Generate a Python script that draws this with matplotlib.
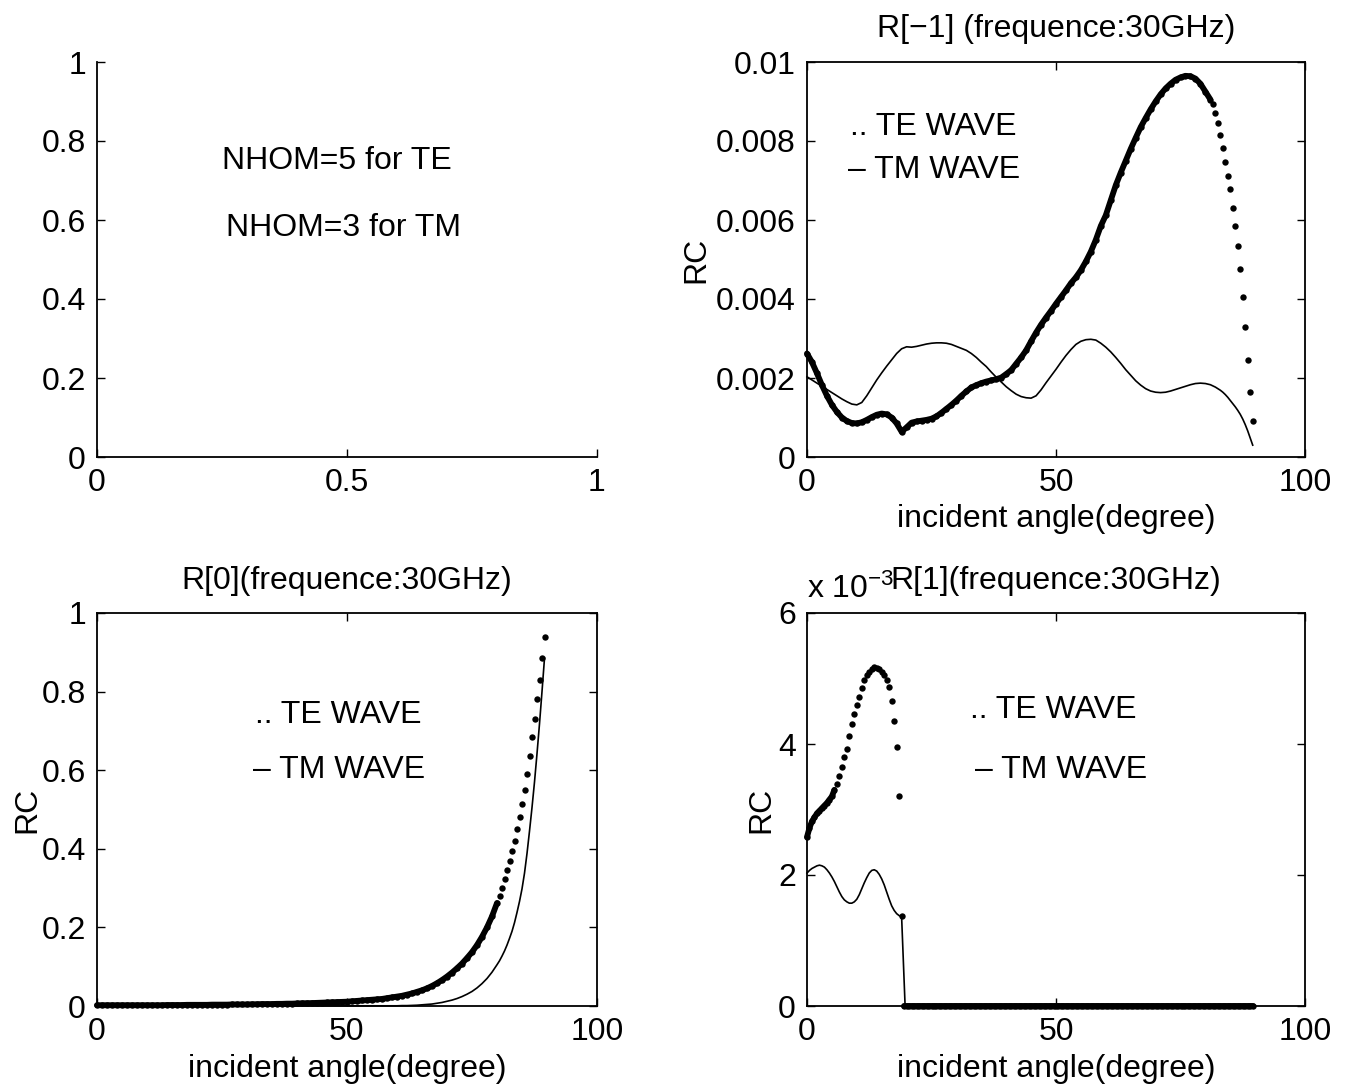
import numpy as np
import matplotlib
matplotlib.use("Agg")
import matplotlib.pyplot as plt

plt.rcParams["font.family"] = ["Liberation Sans", "DejaVu Sans"]
plt.rcParams["mathtext.fontset"] = "custom"
plt.rcParams["mathtext.rm"] = "Liberation Sans"
plt.rcParams["mathtext.it"] = "Liberation Sans"

# ---- R[-1] panel (values in units of 1e-3) ----
ang_m1 = list(range(0, 82)) + [81.5, 82.0, 82.5, 83.0, 83.5, 84.0, 84.5, 85.0, 85.5,
                               86.0, 86.5, 87.0, 87.5, 88.0, 88.5, 89.0, 89.5]
te_m1 = [2.62, 2.40, 2.12, 1.82, 1.55, 1.32, 1.14, 1.00, 0.91, 0.86,
         0.85, 0.88, 0.94, 1.01, 1.07, 1.10, 1.08, 1.00, 0.85, 0.64,
         0.75, 0.87, 0.90, 0.92, 0.94, 0.97, 1.03, 1.12, 1.22, 1.32,
         1.43, 1.55, 1.66, 1.76, 1.82, 1.87, 1.91, 1.94, 1.97, 2.01,
         2.10, 2.20, 2.36, 2.52, 2.70, 2.93, 3.15, 3.35, 3.53, 3.70,
         3.88, 4.05, 4.22, 4.40, 4.55, 4.73, 4.95, 5.20, 5.50, 5.85,
         6.12, 6.50, 6.88, 7.20, 7.50, 7.80, 8.08, 8.35, 8.58, 8.80,
         9.00, 9.18, 9.33, 9.45, 9.55, 9.61, 9.65, 9.64, 9.58, 9.45,
         9.25, 9.05,
         8.93, 8.72, 8.45, 8.15, 7.82, 7.48, 7.12, 6.78, 6.30,
         5.85, 5.35, 4.75, 4.05, 3.30, 2.45, 1.65, 0.90]
tm_m1 = [2.03, 1.95, 1.87, 1.79, 1.71, 1.63, 1.55, 1.47, 1.40, 1.34,
         1.32, 1.38, 1.55, 1.75, 1.95, 2.13, 2.30, 2.46, 2.62, 2.74,
         2.79, 2.78, 2.80, 2.83, 2.86, 2.88, 2.89, 2.89, 2.88, 2.85,
         2.80, 2.75, 2.70, 2.62, 2.52, 2.40, 2.29, 2.15, 2.02, 1.90,
         1.78, 1.68, 1.59, 1.53, 1.50, 1.49, 1.55, 1.70, 1.88, 2.05,
         2.22, 2.40, 2.57, 2.72, 2.85, 2.93, 2.97, 2.98, 2.96, 2.88,
         2.78, 2.66, 2.52, 2.37, 2.21, 2.07, 1.93, 1.82, 1.73, 1.67,
         1.64, 1.63, 1.64, 1.67, 1.71, 1.75, 1.79, 1.83, 1.86, 1.87,
         1.86, 1.83,
         1.80, 1.77, 1.73, 1.69, 1.64, 1.58, 1.51, 1.43, 1.35,
         1.27, 1.18, 1.08, 0.96, 0.82, 0.66, 0.48, 0.30]

# ---- R[0] panel ----
ang_0 = list(range(0, 81)) + [80.5, 81.0, 81.5, 82.0, 82.5, 83.0, 83.5, 84.0, 84.5, 85.0,
                              85.5, 86.0, 86.5, 87.0, 87.5, 88.0, 88.5, 89.0, 89.5]
te_0 = [0.002, 0.002, 0.002, 0.002, 0.002, 0.002, 0.002, 0.002, 0.002, 0.002,
        0.002, 0.002, 0.002, 0.002, 0.0025, 0.0025, 0.0025, 0.0025, 0.003, 0.003,
        0.003, 0.003, 0.003, 0.0035, 0.0035, 0.0035, 0.0035, 0.004, 0.004, 0.004,
        0.004, 0.0045, 0.0045, 0.005, 0.005, 0.005, 0.0055, 0.0055, 0.006, 0.006,
        0.0065, 0.007, 0.0072, 0.0075, 0.008, 0.0085, 0.009, 0.0095, 0.010, 0.0105,
        0.011, 0.012, 0.013, 0.014, 0.015, 0.016, 0.017, 0.018, 0.020, 0.022,
        0.024, 0.026, 0.029, 0.032, 0.036, 0.040, 0.045, 0.051, 0.058, 0.066,
        0.075, 0.085, 0.096, 0.108, 0.122, 0.137, 0.155, 0.176, 0.200, 0.228,
        0.262,
        0.280, 0.300, 0.322, 0.345, 0.370, 0.395, 0.420, 0.450, 0.480, 0.515,
        0.550, 0.590, 0.635, 0.684, 0.730, 0.780, 0.830, 0.885, 0.940]
tm_0 = [0.0003] * 51 + [0.0005] * 10 + [
        0.001, 0.001, 0.0015, 0.002, 0.003, 0.004, 0.005, 0.007, 0.009,
        0.012, 0.015, 0.019, 0.024, 0.030, 0.037, 0.046, 0.057, 0.070, 0.086,
        0.105,
        0.115, 0.127, 0.140, 0.155, 0.172, 0.190, 0.212, 0.238, 0.266, 0.298,
        0.338, 0.388, 0.445, 0.505, 0.570, 0.642, 0.718, 0.800, 0.885]

# ---- R[1] panel (values in units of 1e-3) ----
ang_p1 = [i * 0.5 for i in range(0, 180)]
te_p1 = [2.58, 2.72, 2.82, 2.88, 2.94, 2.98, 3.02, 3.06, 3.10, 3.15,
         3.20, 3.30, 3.39, 3.51, 3.65, 3.80, 3.93, 4.12, 4.31, 4.46,
         4.60, 4.72, 4.85, 4.97, 5.05, 5.10, 5.15, 5.17, 5.16, 5.14,
         5.10, 5.05, 4.98, 4.87, 4.66, 4.35, 3.95, 3.20, 1.38] + [0.0] * 141
ang_p1_tm = [i * 0.5 for i in range(0, 39)] + [19.7, 89.5]
tm_p1 = [2.03, 2.07, 2.10, 2.12, 2.14, 2.15, 2.14, 2.12, 2.08, 2.03,
         1.97, 1.90, 1.82, 1.74, 1.67, 1.62, 1.59, 1.57, 1.57, 1.59,
         1.63, 1.70, 1.79, 1.88, 1.96, 2.03, 2.07, 2.08, 2.06, 2.01,
         1.94, 1.85, 1.74, 1.63, 1.53, 1.46, 1.41, 1.38, 1.36, 0.0, 0.0]

ang_ticks = [0, 50, 100]
ang_ticklabels = ["0", "50", "100"]
m1_ticks = [0, 0.002, 0.004, 0.006, 0.008, 0.01]
m1_ticklabels = ["0", "0.002", "0.004", "0.006", "0.008", "0.01"]
unit_ticks = [0, 0.2, 0.4, 0.6, 0.8, 1]
unit_ticklabels = ["0", "0.2", "0.4", "0.6", "0.8", "1"]
p1_ticks = [0, 2, 4, 6]
p1_ticklabels = ["0", "2", "4", "6"]

FS = 23
W, H = 1348, 1092
fig = plt.figure(figsize=(W / 100, H / 100), dpi=100)
fig.patch.set_facecolor("white")


def make_axes(x0, y_top, x1, y_bot):
    return fig.add_axes([x0 / W, 1 - y_bot / H, (x1 - x0) / W, (y_bot - y_top) / H])


def style(ax, box=True):
    ax.tick_params(direction="in", length=6, width=1.0, labelsize=FS, pad=8,
                   top=box, right=box)
    for s in ax.spines.values():
        s.set_linewidth(1.3)
    if not box:
        ax.spines["top"].set_visible(False)
        ax.spines["right"].set_visible(False)


def te_tm(ax, x_te, y_te, x_tm, y_tm, dense):
    # where the TE samples lie close together they merge into a thick band
    x_te = np.asarray(x_te, float)
    y_te = np.asarray(y_te, float)
    for lo, hi in dense:
        m = (x_te >= lo) & (x_te <= hi)
        ax.plot(x_te[m], y_te[m], color="black", linewidth=4.2,
                solid_capstyle="round", clip_on=False)
    ax.plot(x_te, y_te, linestyle="none", marker="o", markersize=4.6,
            markeredgewidth=0, color="black", clip_on=False)
    ax.plot(x_tm, y_tm, color="black", linewidth=1.2, clip_on=False)


# top-left: notes
ax1 = make_axes(97, 62, 597, 457)
ax1.set_xlim(0, 1)
ax1.set_ylim(0, 1)
ax1.set_xticks([0, 0.5, 1])
ax1.set_xticklabels(["0", "0.5", "1"])
ax1.set_yticks(unit_ticks)
ax1.set_yticklabels(unit_ticklabels)
style(ax1, box=False)
ax1.text(0.25, 0.75, "NHOM=5 for TE", fontsize=FS, va="center", ha="left")
ax1.text(0.258, 0.58, "NHOM=3 for TM", fontsize=FS, va="center", ha="left")

# top-right: R[-1]
ax2 = make_axes(807, 62, 1305, 457)
te_tm(ax2, ang_m1, np.array(te_m1) * 1e-3, ang_m1, np.array(tm_m1) * 1e-3,
      dense=[(0, 81)])
ax2.set_xlim(0, 100)
ax2.set_ylim(0, 0.01)
ax2.set_xticks(ang_ticks)
ax2.set_xticklabels(ang_ticklabels)
ax2.set_yticks(m1_ticks)
ax2.set_yticklabels(m1_ticklabels)
style(ax2)
ax2.set_title("R[\u22121] (frequence:30GHz)", fontsize=FS, pad=18)
ax2.set_xlabel("incident angle(degree)", fontsize=FS)
ax2.set_ylabel("RC", fontsize=FS)
ax2.xaxis.set_label_coords(0.5, -0.12)
ax2.yaxis.set_label_coords(-0.193, 0.5)
ax2.text(8.6, 0.00835, ".. TE WAVE", fontsize=FS, va="center", ha="left")
ax2.text(8.2, 0.00727, "\u2013 TM WAVE", fontsize=FS, va="center", ha="left")

# bottom-left: R[0]
ax3 = make_axes(97, 613, 597, 1006)
te_tm(ax3, ang_0, te_0, ang_0, tm_0, dense=[(0, 80)])
ax3.set_xlim(0, 100)
ax3.set_ylim(0, 1)
ax3.set_xticks(ang_ticks)
ax3.set_xticklabels(ang_ticklabels)
ax3.set_yticks(unit_ticks)
ax3.set_yticklabels(unit_ticklabels)
style(ax3)
ax3.set_title("R[0](frequence:30GHz)", fontsize=FS, pad=17)
ax3.set_xlabel("incident angle(degree)", fontsize=FS)
ax3.set_ylabel("RC", fontsize=FS)
ax3.xaxis.set_label_coords(0.5, -0.122)
ax3.yaxis.set_label_coords(-0.11, 0.5)
ax3.text(31.6, 0.74, ".. TE WAVE", fontsize=FS, va="center", ha="left")
ax3.text(31.2, 0.60, "\u2013 TM WAVE", fontsize=FS, va="center", ha="left")

# bottom-right: R[1]
ax4 = make_axes(807, 613, 1305, 1006)
te_tm(ax4, ang_p1, te_p1, ang_p1_tm, tm_p1, dense=[(0, 5.5), (19.5, 89.5)])
ax4.set_xlim(0, 100)
ax4.set_ylim(0, 6)
ax4.set_xticks(ang_ticks)
ax4.set_xticklabels(ang_ticklabels)
ax4.set_yticks(p1_ticks)
ax4.set_yticklabels(p1_ticklabels)
style(ax4)
ax4.set_title("R[1](frequence:30GHz)", fontsize=FS, pad=17)
ax4.set_xlabel("incident angle(degree)", fontsize=FS)
ax4.set_ylabel("RC", fontsize=FS)
ax4.xaxis.set_label_coords(0.5, -0.122)
ax4.yaxis.set_label_coords(-0.062, 0.5)
ax4.text(0.0, 1.02, "x 10$^{-3}$", transform=ax4.transAxes, fontsize=FS,
         va="bottom", ha="left")
ax4.text(32.7, 4.52, ".. TE WAVE", fontsize=FS, va="center", ha="left")
ax4.text(33.7, 3.60, "\u2013 TM WAVE", fontsize=FS, va="center", ha="left")

fig.savefig("out.png", dpi=100, facecolor="white")
